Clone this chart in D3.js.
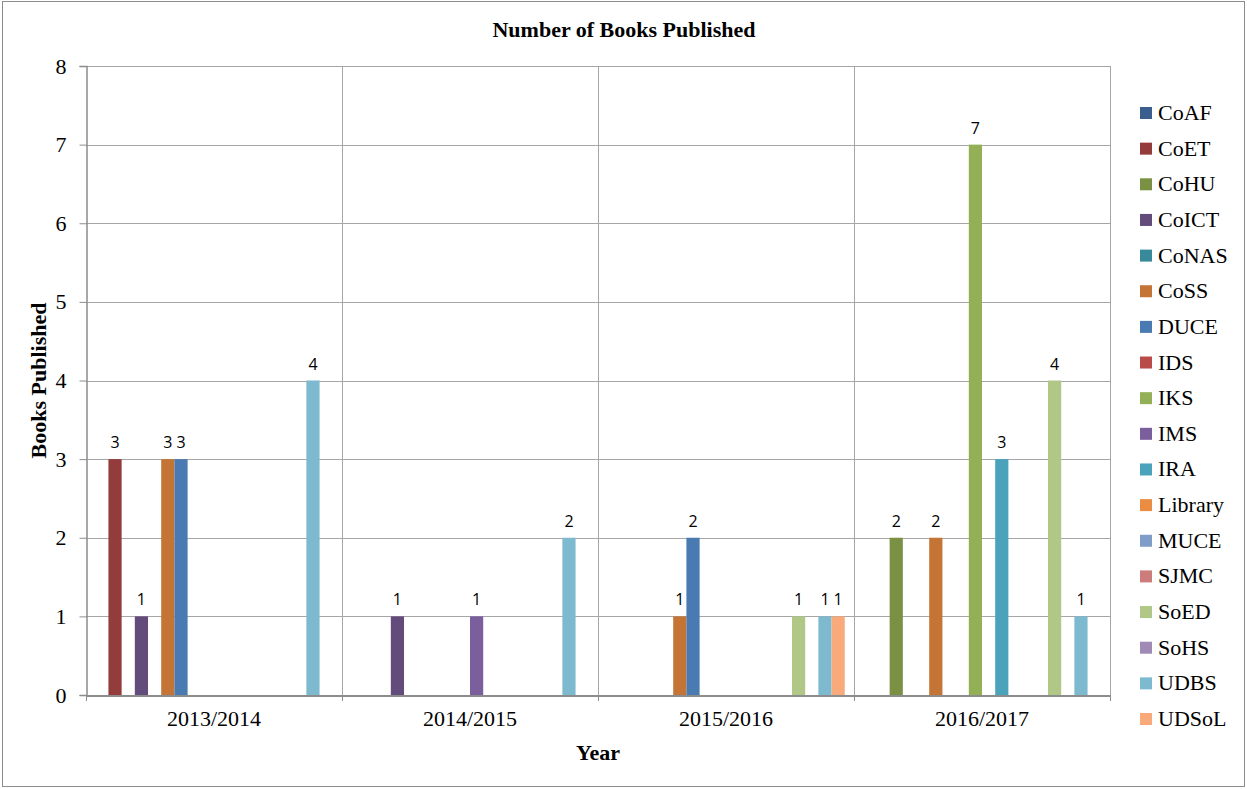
<!DOCTYPE html>
<html>
<head>
<meta charset="utf-8">
<script src="https://cdn.jsdelivr.net/npm/d3@7"></script>
<style>
  body { margin: 0; background: #fff; }
  svg { display: block; }
</style>
</head>
<body>
<div id="chart"></div>
<script>
// data
var years = ["2013/2014", "2014/2015", "2015/2016", "2016/2017"];
var units = ["CoAF", "CoET", "CoHU", "CoICT", "CoNAS", "CoSS", "DUCE", "IDS", "IKS",
    "IMS", "IRA", "Library", "MUCE", "SJMC", "SoED", "SoHS", "UDBS", "UDSoL"];
var colors = ["#3a5f8e", "#943c3b", "#7a9143", "#634b7c", "#388a9a", "#c47434",
    "#4a7ab2", "#b94b49", "#94b056", "#7a5f9c", "#4aa3bb", "#ea8d43",
    "#7f9dc9", "#cc7c7b", "#b0c787", "#9f8bb6", "#7dbad0", "#f8aa7a"];
// values per unit, one per year (null = no bar)
var books = {
    CoET:  [3, null, null, null],
    CoHU:  [null, null, null, 2],
    CoICT: [1, 1, null, null],
    CoSS:  [3, null, 1, 2],
    DUCE:  [3, null, 2, null],
    IKS:   [null, null, null, 7],
    IMS:   [null, 1, null, null],
    IRA:   [null, null, null, 3],
    SoED:  [null, null, 1, 4],
    UDBS:  [4, 2, 1, 1],
    UDSoL: [null, null, 1, null]
};
var yTicks = [0, 1, 2, 3, 4, 5, 6, 7, 8];

function makeChart() {
    var W = 1247, H = 789;
    var plot = { left: 86, top: 66, right: 1110, bottom: 695 };
    var serif = "'Liberation Serif', 'Times New Roman', serif";
    var sans = "'Open Sans', 'Liberation Sans', sans-serif";

    var svg = d3.select("#chart").append("svg")
        .attr("width", W)
        .attr("height", H);

    // outer chart border
    svg.append("rect")
        .attr("x", 2.5).attr("y", 1.5)
        .attr("width", W - 5).attr("height", H - 4)
        .attr("fill", "#fff")
        .attr("stroke", "#8c8c8c")
        .attr("stroke-width", 1);

    var x0 = d3.scaleBand()
        .domain(years)
        .range([plot.left, plot.right])
        .padding(0);
    var x1 = d3.scaleBand()
        .domain(units)
        .range([0, x0.bandwidth()])
        .paddingInner(0)
        .paddingOuter(0.7);
    var y = d3.scaleLinear()
        .domain([0, 8])
        .range([plot.bottom, plot.top]);

    // horizontal gridlines
    svg.append("g").selectAll("line")
        .data(yTicks.slice(1))
        .enter().append("line")
        .attr("x1", plot.left).attr("x2", plot.right)
        .attr("y1", (d) => Math.round(y(d)) + 0.5)
        .attr("y2", (d) => Math.round(y(d)) + 0.5)
        .attr("stroke", "#a6a6a6");

    // vertical gridlines at category boundaries
    svg.append("g").selectAll("line")
        .data(years)
        .enter().append("line")
        .attr("x1", (d) => Math.round(x0(d) + x0.bandwidth()) + 0.5)
        .attr("x2", (d) => Math.round(x0(d) + x0.bandwidth()) + 0.5)
        .attr("y1", plot.top).attr("y2", plot.bottom)
        .attr("stroke", "#a6a6a6");

    // bars
    var rows = [];
    units.forEach((u, i) => {
        if (!books[u]) return;
        books[u].forEach((v, j) => {
            if (v !== null) rows.push({ unit: u, year: years[j], value: v, color: colors[i] });
        });
    });

    svg.append("g").selectAll("rect")
        .data(rows)
        .enter().append("rect")
        .attr("x", (d) => x0(d.year) + x1(d.unit))
        .attr("y", (d) => y(d.value))
        .attr("width", x1.bandwidth())
        .attr("height", (d) => y(0) - y(d.value))
        .attr("fill", (d) => d.color);

    svg.append("g").selectAll("text")
        .data(rows)
        .enter().append("text")
        .attr("x", (d) => x0(d.year) + x1(d.unit) + x1.bandwidth() / 2)
        .attr("y", (d) => y(d.value) - 11)
        .attr("text-anchor", "middle")
        .style("font-family", sans)
        .style("font-size", "16px")
        .attr("fill", "#000")
        .text((d) => d.value);

    // y axis
    var yAxis = svg.append("g")
        .attr("transform", "translate(" + (plot.left + 0.5) + ",0)")
        .call(d3.axisLeft(y).tickValues(yTicks).tickSize(7).tickPadding(13));
    yAxis.select(".domain").attr("stroke", "#8c8c8c").attr("stroke-width", 1.5);
    yAxis.selectAll(".tick line").attr("stroke", "#8c8c8c");
    yAxis.selectAll(".tick text")
        .style("font-family", serif)
        .style("font-size", "22px")
        .attr("fill", "#000");

    // x axis
    var xAxis = svg.append("g")
        .attr("transform", "translate(0," + (plot.bottom + 0.5) + ")")
        .call(d3.axisBottom(x0).tickSize(0).tickPadding(15));
    xAxis.select(".domain").attr("stroke", "#8c8c8c").attr("stroke-width", 2);
    xAxis.selectAll(".tick text")
        .style("font-family", serif)
        .style("font-size", "22px")
        .attr("fill", "#000");
    svg.append("g").selectAll("line")
        .data(years)
        .enter().append("line")
        .attr("x1", (d) => Math.round(x0(d)) + 0.5)
        .attr("x2", (d) => Math.round(x0(d)) + 0.5)
        .attr("y1", plot.bottom).attr("y2", plot.bottom + 6)
        .attr("stroke", "#8c8c8c");
    svg.append("line")
        .attr("x1", plot.right + 0.5).attr("x2", plot.right + 0.5)
        .attr("y1", plot.bottom).attr("y2", plot.bottom + 6)
        .attr("stroke", "#8c8c8c");

    // titles
    svg.append("text")
        .attr("x", 624).attr("y", 37)
        .attr("text-anchor", "middle")
        .style("font-family", serif)
        .style("font-size", "22px")
        .style("font-weight", "bold")
        .text("Number of Books Published");

    svg.append("text")
        .attr("x", (plot.left + plot.right) / 2).attr("y", 760)
        .attr("text-anchor", "middle")
        .style("font-family", serif)
        .style("font-size", "22px")
        .style("font-weight", "bold")
        .text("Year");

    svg.append("text")
        .attr("transform", "translate(46," + (plot.top + plot.bottom) / 2 + ") rotate(-90)")
        .attr("text-anchor", "middle")
        .style("font-family", serif)
        .style("font-size", "22px")
        .style("font-weight", "bold")
        .text("Books Published");

    // legend
    var ly = d3.scalePoint()
        .domain(units)
        .range([113, 719]);
    var legend = svg.append("g").selectAll("g")
        .data(units)
        .enter().append("g")
        .attr("transform", (d) => "translate(1140," + ly(d) + ")");
    legend.append("rect")
        .attr("x", 0).attr("y", -6)
        .attr("width", 12).attr("height", 12)
        .attr("fill", (d, i) => colors[i]);
    legend.append("text")
        .attr("x", 18).attr("y", 7)
        .style("font-family", serif)
        .style("font-size", "22px")
        .attr("fill", "#000")
        .text((d) => d);
}

makeChart();
</script>
</body>
</html>
